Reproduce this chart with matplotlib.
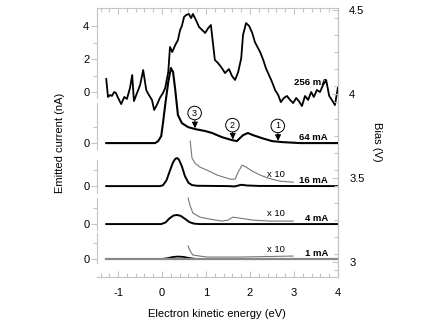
import matplotlib
matplotlib.use("Agg")
import matplotlib.pyplot as plt
import numpy as np

plt.rcParams['font.family'] = ['Liberation Sans', 'DejaVu Sans']

# ---------------- data (energy in eV, current in nA) ----------------
e256 = [-1.27, -1.23, -1.18, -1.14, -1.09, -1.05, -1.0, -0.93, -0.86, -0.80, -0.73, -0.68, -0.64,
        -0.57, -0.50, -0.43, -0.36, -0.30, -0.23, -0.18, -0.11, -0.05, 0.02, 0.07, 0.14, 0.18,
        0.23, 0.30, 0.36, 0.41, 0.45, 0.50, 0.55, 0.61, 0.66, 0.70, 0.77, 0.84, 0.91, 0.98, 1.05,
        1.11, 1.20, 1.27, 1.36, 1.43, 1.52, 1.59, 1.66, 1.73, 1.80, 1.84, 1.91, 1.98, 2.05, 2.11,
        2.18, 2.23, 2.30, 2.36, 2.43, 2.50, 2.57, 2.64, 2.70, 2.77, 2.84, 2.91, 2.98, 3.05, 3.11,
        3.18, 3.25, 3.32, 3.39, 3.45, 3.52, 3.59, 3.66, 3.73, 3.80, 3.86, 3.93, 4.0]
i256 = [0.79, -0.30, -0.18, -0.24, 0.0, -0.06, -0.36, -0.73, -0.30, -0.42, 0.24, 1.03, -0.55,
        -0.06, 0.42, 1.33, 0.12, -0.18, -0.48, -1.09, -0.73, -0.36, -0.06, 0.24, 1.21, 2.73,
        2.42, 2.85, 3.15, 3.76, 4.0, 4.55, 4.67, 4.73, 4.48, 4.73, 4.36, 3.94, 3.76, 3.58, 3.88,
        4.06, 1.94, 1.76, 1.45, 1.15, 1.39, 0.97, 0.73, 1.21, 2.06, 3.45, 4.18, 4.0, 3.58, 3.03,
        2.67, 2.42, 1.94, 1.45, 1.03, 0.61, 0.12, -0.18, -0.61, -0.36, -0.24, -0.48, -0.67, -0.36, -0.55,
        -0.85, -0.24, -0.48, 0.0, -0.30, 0.12, 0.0, 0.42, 0.73, -0.24, -0.48, -0.79, 0.30]

e64 = [-1.27, -0.16, -0.09, -0.02, 0.02, 0.07, 0.14, 0.20, 0.25, 0.30, 0.36, 0.45, 0.59, 0.75,
       0.98, 1.14, 1.36, 1.59, 1.70, 1.84, 1.95, 2.07, 2.27, 2.50, 2.73, 3.14, 4.0]
i64 = [0.0, 0.0, 0.12, 0.42, 1.21, 2.30, 3.70, 4.55, 4.30, 3.21, 1.70, 1.21, 0.97, 0.85,
       0.73, 0.61, 0.36, 0.18, 0.12, 0.48, 0.61, 0.48, 0.30, 0.12, 0.06, 0.0, 0.0]

e16 = [-1.27, -0.05, 0.02, 0.10, 0.18, 0.25, 0.30, 0.34, 0.38, 0.45, 0.52, 0.60, 0.68, 0.80,
       1.50, 1.65, 1.80, 1.92, 2.20, 4.0]
i16 = [0.0, 0.0, 0.05, 0.35, 0.95, 1.45, 1.65, 1.70, 1.62, 1.20, 0.60, 0.20, 0.06, 0.02,
       0.0, -0.02, 0.08, 0.04, 0.01, 0.0]
e16x = [0.64, 0.68, 0.75, 0.86, 1.02, 1.25, 1.55, 1.66, 1.73, 1.82, 1.91, 2.05, 2.23, 2.41, 2.68, 2.98]
i16x = [0.273, 0.170, 0.139, 0.115, 0.097, 0.067, 0.042, 0.042, 0.085, 0.127, 0.115, 0.091,
        0.067, 0.048, 0.030, 0.024]

e4 = [-1.27, -0.02, 0.08, 0.17, 0.26, 0.34, 0.42, 0.52, 0.62, 0.72, 0.85, 4.0]
i4 = [0.0, 0.0, 0.10, 0.35, 0.52, 0.55, 0.50, 0.32, 0.12, 0.03, 0.0, 0.0]
e4x = [0.59, 0.64, 0.70, 0.86, 1.09, 1.36, 1.50, 1.61, 1.77, 2.07, 2.45, 2.98]
i4x = [0.158, 0.109, 0.067, 0.042, 0.030, 0.018, 0.024, 0.042, 0.036, 0.024, 0.018, 0.018]

e1 = [-1.27, 0.0, 0.12, 0.24, 0.36, 0.48, 0.60, 0.72, 0.82, 4.0]
i1 = [0.0, 0.0, 0.05, 0.12, 0.15, 0.13, 0.07, 0.02, 0.0, 0.0]
e1x = [0.59, 0.64, 0.70, 1.02, 1.77, 2.98]
i1x = [0.079, 0.048, 0.024, 0.012, 0.012, 0.018]

labels = ["256 mA", "64 mA", "16 mA", "4 mA", "1 mA"]
bias_base = [4.012, 3.708, 3.452, 3.226, 3.018]   # bias (V) at which each trace is drawn
peaks_e = [2.64, 1.61, 0.75]
peaks_lab = ["1", "2", "3"]
xticks = [-1, 0, 1, 2, 3, 4]
bias_ticks = [3, 3.5, 4, 4.5]

K = 0.0982  # V of bias axis per nA
GRID = '#c4c4c4'

fig = plt.figure(figsize=(4.36, 3.27), dpi=100)
ax = fig.add_axes([97/436, 50/327, 241/436, 269/327])
ax.set_xlim(-1.48, 4.0)
ax.set_ylim(2.911, 4.512)

traces = [(e256, i256, 1.3), (e64, i64, 1.5), (e16, i16, 1.4), (e4, i4, 1.4), (e1, i1, 1.3)]
for (e, i, lw), b in zip(traces, bias_base):
    ax.plot(e, b + K*np.array(i), color='black', lw=lw, zorder=3)
# 1 mA baseline appears grey
ax.plot([-1.27, 4.0], [bias_base[4]]*2, color='#888888', lw=1.6, zorder=4)

for (e, i), b in zip([(e16x, i16x), (e4x, i4x), (e1x, i1x)], bias_base[2:]):
    ax.plot(e, b + K*10*np.array(i), color='#777777', lw=0.8, zorder=2)

# labels
for lab, b, dy in zip(labels, bias_base, [0.055, 0.035, 0.035, 0.035, 0.030]):
    ax.text(3.77, b + dy, lab, ha='right', va='center', fontsize=6.8, fontweight='bold')
for b, dy in zip(bias_base[2:], [0.072, 0.06, 0.058]):
    ax.text(2.6, b + dy, "x 10", ha='center', va='center', fontsize=6.8)

# peak markers
e64a = np.array(e64); i64a = np.array(i64)
for pe, pl, cy in zip(peaks_e, peaks_lab, [3.81, 3.815, 3.887]):
    yt = bias_base[1] + K*np.interp(pe, e64a, i64a) + 0.005
    ax.annotate(pl, xy=(pe, yt), xytext=(pe - 0.01, cy), ha='center', va='center', fontsize=6.5,
                bbox=dict(boxstyle='circle,pad=0.25', fc='white', ec='black', lw=0.7),
                arrowprops=dict(arrowstyle='-|>', color='black', lw=0.7, mutation_scale=9,
                                shrinkA=0, shrinkB=0), zorder=5)

# axes styling
for s in ['top', 'bottom', 'right']:
    ax.spines[s].set_color(GRID)
    ax.spines[s].set_linewidth(0.8)
ax.spines['left'].set_visible(False)

# left spine segments (in nA relative to each baseline)
segs = [(-0.35, 5.1), (-0.36, 2.42), (-0.42, 1.58), (-0.36, 1.6), (-0.25, 1.6)]
tr = ax.get_yaxis_transform()
for b, (lo, hi) in zip(bias_base, segs):
    ax.plot([0, 0], [b + K*lo, min(b + K*hi, 4.512)], color=GRID, lw=0.8, transform=tr, clip_on=False)

ymaj = [b for b in bias_base] + [bias_base[0] + 2*K, bias_base[0] + 4*K]
ylab = ["0"]*5 + ["2", "4"]
ax.set_yticks(ymaj)
ax.set_yticklabels(ylab)
ax.set_yticks([b + K for b in bias_base] + [bias_base[0] + 3*K], minor=True)
ax.tick_params(axis='y', which='major', direction='out', length=4, width=0.8, color=GRID,
               labelcolor='black', labelsize=8, pad=1.5)
ax.tick_params(axis='y', which='minor', direction='out', length=3, width=0.8, color=GRID)

ax.set_xticks(xticks)
ax.set_xticklabels(["-1", "0", "1", "2", "3", "4"])
ax.set_xticks(np.arange(-1.4, 4.01, 0.2), minor=True)
ax.tick_params(axis='x', which='both', direction='in', top=True, color=GRID, width=0.8,
               labelcolor='black', labelsize=8, pad=8)
ax.tick_params(axis='x', which='major', length=4)
ax.tick_params(axis='x', which='minor', length=3)

ax2 = ax.twinx()
ax2.set_ylim(ax.get_ylim())
ax2.set_yticks(bias_ticks)
ax2.set_yticklabels(["3", "3.5", "4", "4.5"])
ax2.set_yticks(np.arange(2.95, 4.51, 0.1), minor=True)
ax2.tick_params(axis='y', which='both', direction='in', color=GRID, width=0.8,
                labelcolor='black', labelsize=8, pad=8)
ax2.tick_params(axis='y', which='major', length=4)
ax2.tick_params(axis='y', which='minor', length=3)
for s in ['top', 'bottom', 'left']:
    ax2.spines[s].set_visible(False)
ax2.spines['right'].set_color(GRID)
ax2.spines['right'].set_linewidth(0.8)

fig.text(217/436, 1 - 314/327, "Electron kinetic energy (eV)", ha='center', va='center', fontsize=8)
fig.text(60/436, 1 - 143/327, "Emitted current (nA)", ha='center', va='center', fontsize=8, rotation=90)
fig.text(377/436, 1 - 142/327, "Bias (V)", ha='center', va='center', fontsize=8, rotation=270)

fig.savefig("out.png", dpi=100)
